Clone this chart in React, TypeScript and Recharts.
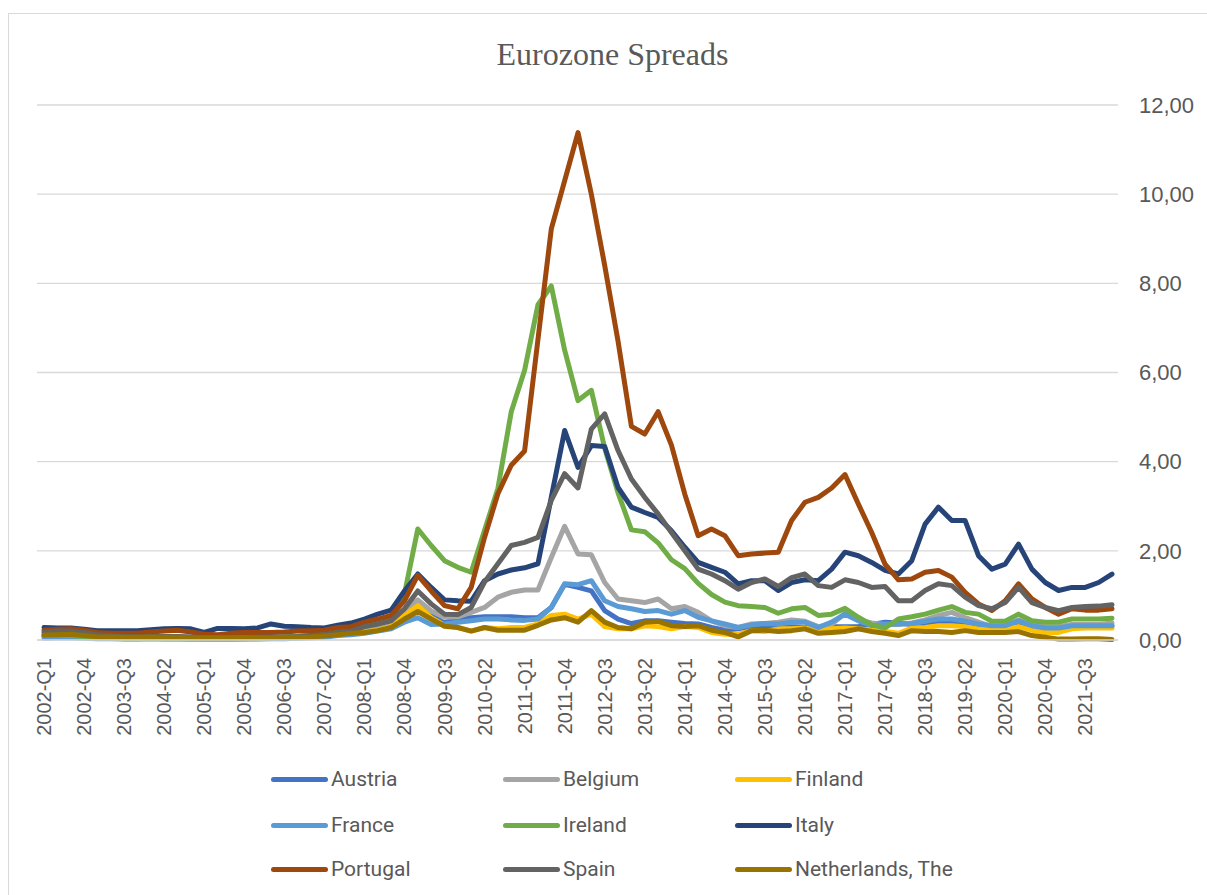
import React from "react";
import { LineChart, Line, XAxis, YAxis, CartesianGrid, Legend } from "recharts";

// quarters 2002-Q1 .. 2022-Q1
const years = [2002, 2003, 2004, 2005, 2006, 2007, 2008, 2009, 2010, 2011, 2012, 2013, 2014, 2015, 2016, 2017, 2018, 2019, 2020, 2021, 2022];
const quarterNames = ["Q1", "Q2", "Q3", "Q4"];
const quarters: string[] = [];
years.forEach((y) => quarterNames.forEach((q) => quarters.push(`${y}-${q}`)));
quarters.length = 81;

const austria = [
  0.08, 0.1, 0.1, 0.08, 0.06, 0.06, 0.05, 0.05, 0.05, 0.05, 0.05, 0.04, 0.04, 0.04, 0.05, 0.05, 0.05, 0.05, 0.06, 0.06, 0.08, 0.1, 0.15, 0.2, 0.25,
  0.3, 0.38, 0.65, 0.85, 0.55, 0.38, 0.5, 0.5, 0.52, 0.52, 0.52, 0.5, 0.5, 0.73, 1.25,
  1.18, 1.1, 0.66, 0.47, 0.37, 0.43, 0.43, 0.4, 0.37, 0.36, 0.28, 0.22, 0.25, 0.3, 0.32,
  0.28, 0.3, 0.28, 0.28, 0.3, 0.3, 0.3, 0.35, 0.4, 0.38, 0.35, 0.35, 0.38, 0.4, 0.38, 0.32, 0.3, 0.28, 0.38, 0.3, 0.25, 0.22, 0.28, 0.3, 0.3, 0.32,
];
const belgium = [
  0.15, 0.15, 0.15, 0.12, 0.1, 0.1, 0.08, 0.08, 0.08, 0.08, 0.08, 0.06, 0.05, 0.05, 0.05, 0.05, 0.05, 0.06, 0.06, 0.07, 0.08, 0.1, 0.15, 0.2, 0.25,
  0.28, 0.4, 0.66, 0.9, 0.65, 0.51, 0.52, 0.62, 0.73, 0.96, 1.07, 1.12, 1.12, 1.85, 2.55,
  1.93, 1.91, 1.29, 0.92, 0.88, 0.84, 0.92, 0.7, 0.75, 0.62, 0.43, 0.32, 0.28, 0.36, 0.37,
  0.4, 0.45, 0.42, 0.3, 0.35, 0.6, 0.45, 0.38, 0.35, 0.35, 0.38, 0.45, 0.55, 0.62, 0.5, 0.4, 0.3, 0.32, 0.45, 0.35, 0.3, 0.3, 0.35, 0.35, 0.35, 0.38,
];
const finland = [
  0.08, 0.08, 0.08, 0.06, 0.05, 0.05, 0.04, 0.04, 0.05, 0.05, 0.05, 0.04, 0.03, 0.03, 0.03, 0.03, 0.03, 0.04, 0.04, 0.05, 0.06, 0.08, 0.12, 0.15, 0.18,
  0.22, 0.3, 0.55, 0.77, 0.5, 0.33, 0.28, 0.2, 0.28, 0.25, 0.28, 0.28, 0.36, 0.55, 0.58,
  0.47, 0.58, 0.3, 0.25, 0.25, 0.32, 0.3, 0.25, 0.3, 0.28, 0.17, 0.13, 0.13, 0.21, 0.19,
  0.25, 0.25, 0.27, 0.22, 0.25, 0.27, 0.25, 0.22, 0.19, 0.15, 0.27, 0.28, 0.32, 0.32, 0.3, 0.25, 0.22, 0.25, 0.3, 0.22, 0.17, 0.17, 0.25, 0.27, 0.27, 0.27,
];
const france = [
  0.04, 0.05, 0.05, 0.04, 0.03, 0.03, 0.02, 0.02, 0.02, 0.02, 0.02, 0.02, 0.02, 0.02, 0.02, 0.02, 0.02, 0.03, 0.03, 0.04, 0.05, 0.06, 0.1, 0.12, 0.15,
  0.2, 0.25, 0.4, 0.5, 0.35, 0.36, 0.4, 0.43, 0.47, 0.47, 0.45, 0.44, 0.47, 0.73, 1.26,
  1.24, 1.33, 0.88, 0.75, 0.7, 0.64, 0.66, 0.58, 0.66, 0.51, 0.43, 0.36, 0.28, 0.34, 0.37,
  0.36, 0.4, 0.4, 0.28, 0.4, 0.58, 0.43, 0.32, 0.36, 0.36, 0.37, 0.42, 0.47, 0.47, 0.42, 0.36, 0.32, 0.32, 0.43, 0.32, 0.27, 0.27, 0.32, 0.32, 0.32, 0.32,
];
const ireland = [
  0.1, 0.1, 0.1, 0.08, 0.05, 0.05, 0.03, 0.03, 0.04, 0.03, 0.03, 0.02, 0.02, 0.02, 0.02, 0.03, 0.04, 0.05, 0.06, 0.08, 0.1, 0.12, 0.2, 0.25, 0.3,
  0.36, 0.47, 1.03, 2.49, 2.12, 1.78, 1.63, 1.52, 2.46, 3.4, 5.12, 6.05, 7.52, 7.94, 6.5,
  5.37, 5.6, 4.3, 3.3, 2.47, 2.43, 2.18, 1.8, 1.6, 1.27, 1.02, 0.85, 0.77, 0.75, 0.73,
  0.6, 0.7, 0.73, 0.55, 0.58, 0.71, 0.51, 0.34, 0.27, 0.47, 0.52, 0.58, 0.67, 0.75, 0.62, 0.58, 0.42, 0.42, 0.58, 0.43, 0.4, 0.4, 0.47, 0.47, 0.47, 0.49,
];
const italy = [
  0.28, 0.27, 0.27, 0.24, 0.21, 0.21, 0.21, 0.21, 0.23, 0.25, 0.26, 0.25, 0.17, 0.26, 0.26, 0.25, 0.27, 0.36, 0.31, 0.3, 0.28, 0.27, 0.33, 0.38, 0.47,
  0.58, 0.67, 1.1, 1.48, 1.18, 0.9, 0.88, 0.87, 1.33, 1.48, 1.57, 1.62, 1.71, 3.2, 4.7,
  3.87, 4.36, 4.34, 3.42, 2.98, 2.86, 2.75, 2.45, 2.08, 1.74, 1.63, 1.52, 1.26, 1.33, 1.33,
  1.11, 1.29, 1.35, 1.33, 1.59, 1.97, 1.89, 1.74, 1.56, 1.48, 1.78, 2.6, 2.98, 2.68, 2.68, 1.89, 1.59, 1.7, 2.15, 1.59, 1.29, 1.11, 1.18, 1.18, 1.29, 1.48,
];
const portugal = [
  0.22, 0.24, 0.25, 0.22, 0.17, 0.15, 0.15, 0.15, 0.18, 0.2, 0.22, 0.18, 0.13, 0.12, 0.15, 0.17, 0.17, 0.17, 0.18, 0.2, 0.21, 0.22, 0.28, 0.3, 0.4,
  0.47, 0.55, 0.88, 1.45, 1.1, 0.77, 0.7, 1.18, 2.3, 3.28, 3.92, 4.24, 6.74, 9.22, 10.3,
  11.38, 10.0, 8.4, 6.7, 4.79, 4.62, 5.12, 4.37, 3.27, 2.34, 2.49, 2.34, 1.89, 1.93, 1.95,
  1.97, 2.68, 3.09, 3.2, 3.41, 3.71, 3.05, 2.41, 1.7, 1.35, 1.37, 1.52, 1.56, 1.41, 1.07, 0.81, 0.66, 0.88, 1.26, 0.92, 0.73, 0.58, 0.7, 0.67, 0.67, 0.7,
];
const spain = [
  0.18, 0.2, 0.2, 0.17, 0.12, 0.1, 0.08, 0.07, 0.08, 0.08, 0.08, 0.07, 0.05, 0.05, 0.05, 0.05, 0.06, 0.07, 0.07, 0.08, 0.1, 0.12, 0.17, 0.2, 0.3,
  0.36, 0.43, 0.7, 1.1, 0.81, 0.58, 0.57, 0.73, 1.3, 1.71, 2.12, 2.19, 2.3, 3.13, 3.73,
  3.41, 4.73, 5.07, 4.25, 3.61, 3.2, 2.83, 2.41, 2.0, 1.59, 1.48, 1.33, 1.14, 1.29, 1.37,
  1.2, 1.4, 1.48, 1.22, 1.18, 1.35, 1.29, 1.18, 1.2, 0.88, 0.88, 1.11, 1.26, 1.22, 0.96, 0.77, 0.7, 0.84, 1.18, 0.84, 0.73, 0.66, 0.73, 0.75, 0.76, 0.79,
];
const netherlands = [
  0.11, 0.12, 0.13, 0.1, 0.07, 0.07, 0.06, 0.06, 0.07, 0.06, 0.06, 0.05, 0.05, 0.05, 0.05, 0.05, 0.05, 0.05, 0.06, 0.06, 0.07, 0.09, 0.12, 0.15, 0.17,
  0.21, 0.28, 0.47, 0.64, 0.47, 0.31, 0.28, 0.2, 0.28, 0.22, 0.22, 0.22, 0.33, 0.45, 0.5,
  0.4, 0.66, 0.4, 0.28, 0.25, 0.4, 0.42, 0.32, 0.3, 0.32, 0.22, 0.17, 0.07, 0.21, 0.22,
  0.19, 0.21, 0.25, 0.15, 0.17, 0.19, 0.25, 0.19, 0.15, 0.1, 0.21, 0.19, 0.19, 0.17, 0.21, 0.17, 0.17, 0.17, 0.19, 0.1, 0.06, 0.02, 0.02, 0.03, 0.03, 0.01,
];

const yTicks = [0, 2, 4, 6, 8, 10, 12];

const series = [
  { key: "austria", name: "Austria", color: "#4472C4", values: austria },
  { key: "belgium", name: "Belgium", color: "#A5A5A5", values: belgium },
  { key: "finland", name: "Finland", color: "#FFC000", values: finland },
  { key: "france", name: "France", color: "#5B9BD5", values: france },
  { key: "ireland", name: "Ireland", color: "#70AD47", values: ireland },
  { key: "italy", name: "Italy", color: "#264478", values: italy },
  { key: "portugal", name: "Portugal", color: "#9E480E", values: portugal },
  { key: "spain", name: "Spain", color: "#636363", values: spain },
  { key: "netherlands", name: "Netherlands, The", color: "#997300", values: netherlands },
];

const data = quarters.map((q, i) => {
  const row: any = { q };
  series.forEach((s) => (row[s.key] = s.values[i]));
  return row;
});

const textColor = "#595959";

const QuarterTick = (props: any) => {
  const { x, y, payload } = props;
  return (
    <text
      x={x}
      y={y}
      transform={`rotate(-90 ${x} ${y})`}
      textAnchor="end"
      dominantBaseline="central"
      fill={textColor}
      fontSize={20}
      fontFamily="'Liberation Sans', Arial, sans-serif"
    >
      {payload.value}
    </text>
  );
};

const legendCols = [263, 495, 727];
const legendRows = [22, 68, 112];

const LegendBox = () => (
  <div style={{ position: "relative", width: 1199, height: 135 }}>
    {series.map((s, i) => {
      const left = legendCols[i % 3];
      const top = legendRows[Math.floor(i / 3)];
      return (
        <div key={s.key} style={{ position: "absolute", left, top: top - 15, height: 30, display: "flex", alignItems: "center" }}>
          <div style={{ width: 57, height: 5, borderRadius: 3, background: s.color }} />
          <span style={{ marginLeft: 3, color: textColor, fontSize: 21, fontFamily: "Roboto, sans-serif", whiteSpace: "nowrap" }}>
            {s.name}
          </span>
        </div>
      );
    })}
  </div>
);

export default function App() {
  return (
    <div style={{ position: "fixed", left: 0, top: 0, width: 1207, height: 895, overflow: "hidden", background: "#fff" }}>
      <div style={{ position: "absolute", left: 8, top: 13, width: 1205, height: 890, border: "1px solid #d9d9d9", boxSizing: "border-box" }} />
      <div
        style={{
          position: "absolute",
          left: 16,
          width: 1193,
          top: 36,
          textAlign: "center",
          fontFamily: "'Liberation Serif', 'Times New Roman', serif",
          fontSize: 32,
          color: textColor,
        }}
      >
        Eurozone Spreads
      </div>
      <div style={{ position: "absolute", left: 8, top: 8 }}>
        <LineChart width={1199} height={887} data={data} margin={{ top: 97, right: 0, left: 29, bottom: 3 }}>
          <CartesianGrid vertical={false} stroke="#d9d9d9" strokeWidth={1.3} />
          <XAxis
            dataKey="q"
            interval={2}
            tick={<QuarterTick />}
            tickLine={false}
            tickSize={0}
            tickMargin={18}
            axisLine={{ stroke: "#d9d9d9", strokeWidth: 1.3 }}
            height={117}
            padding={{ left: 7, right: 6 }}
          />
          <YAxis
            orientation="right"
            domain={[0, 12]}
            ticks={yTicks}
            width={89}
            axisLine={false}
            tickLine={false}
            tickSize={0}
            tickMargin={21}
            tickFormatter={(v: number) => v.toFixed(2).replace(".", ",")}
            tick={{ fill: textColor, fontSize: 22, fontFamily: "'Liberation Sans', Arial, sans-serif", textAnchor: "start" }}
          />
          <Legend verticalAlign="bottom" content={() => <LegendBox />} wrapperStyle={{ left: 0, width: 1199 }} />
          {series.map((s) => (
            <Line
              key={s.key}
              dataKey={s.key}
              name={s.name}
              stroke={s.color}
              strokeWidth={5}
              strokeLinejoin="round"
              strokeLinecap="round"
              dot={false}
              activeDot={false}
              isAnimationActive={false}
            />
          ))}
        </LineChart>
      </div>
    </div>
  );
}
